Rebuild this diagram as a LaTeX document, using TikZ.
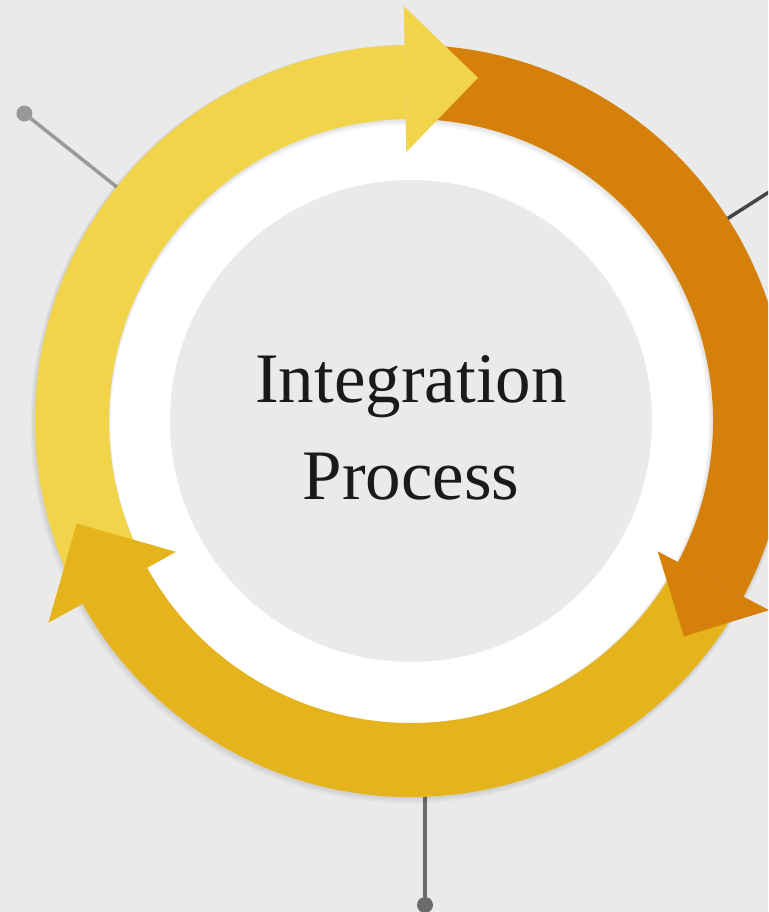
\documentclass[tikz,border=0pt]{standalone}
\usepackage{fontspec}
\setmainfont{Liberation Serif}
\usetikzlibrary{%
    calc,
    positioning
}
\definecolor{canvas}{HTML}{EAEAEA}
\definecolor{lemon}{HTML}{F2D44A}
\definecolor{amber}{HTML}{D4800A}
\definecolor{gold}{HTML}{E5B41C}
\definecolor{inktext}{HTML}{1A1A1A}
\tikzset{spoke/.style = {line width=3.5pt}}

% ring piece: colour, start angle, end angle (clockwise)
\newcommand{\ringbody}[3]{%
    \fill[#1] (#2:376pt) arc[start angle=#2, end angle=#3, radius=376pt]
        -- (#3:302pt) arc[start angle=#3, end angle=#2, radius=302pt] -- cycle;}
% arrow head: colour, base angle, half width, length
\newcommand{\ringhead}[4]{%
    \fill[#1] (#2:342pt-#3) -- (#2:342pt+#3) -- ($(#2:342pt)+(#2-90:#4)$) -- cycle;}

\begin{document}
\begin{tikzpicture}[
    knob/.style = {circle, fill, minimum size=16pt, inner sep=0pt, outer sep=0pt},
    caption/.style = {text=inktext, font=\fontsize{71pt}{80pt}\selectfont, inner sep=0pt}]
    \clip (-411pt,-491pt) rectangle (357pt,421pt);
    \fill[canvas] (-411pt,-491pt) rectangle (357pt,421pt);

    % spokes
    \coordinate (ulfoot) at (141.5:340pt);
    \node[knob, fill=black!40] (ulknob) at (141.5:494pt) {};
    \coordinate (rfoot) at (32.6:340pt);
    \coordinate (rend) at (32.6:445pt);
    \coordinate (bfoot) at (14pt,-350pt);
    \node[knob, fill=black!58] (bknob) at (14pt,-484pt) {};

    \draw[spoke, black!40] (ulfoot) -- (ulknob);
    \draw[spoke, black!73] (rfoot) -- (rend);
    \draw[spoke, black!58] (bfoot) -- (bknob);

    % discs and soft shadow
    \node[circle, fill=white, minimum size=606pt, inner sep=0pt] (disc) at (0,0) {};
    \foreach \s in {1,2,3}
        \fill[black, opacity=.035, even odd rule, shift={(-.5*\s pt,-1*\s pt)}]
            (0,0) circle[radius=376pt+\s pt] (0,0) circle[radius=302pt-\s pt];

    % ring
    \ringbody{lemon}{205}{91}
    \ringbody{amber}{88}{-27.85}
    \ringbody{gold}{-30}{-150.9}
    \ringhead{lemon}{91}{73pt}{73pt}
    \ringhead{amber}{-27.85}{63pt}{63pt}
    \ringhead{gold}{209.1}{73pt}{73pt}

    \node[circle, fill=canvas, minimum size=482pt, inner sep=0pt] (hub) at (0,0) {};
    \node[caption, anchor=base] (integration) at (0,18pt) {Integration};
    \node[caption, below=97pt of integration.base, anchor=base] (process) {Process};
\end{tikzpicture}
\end{document}
